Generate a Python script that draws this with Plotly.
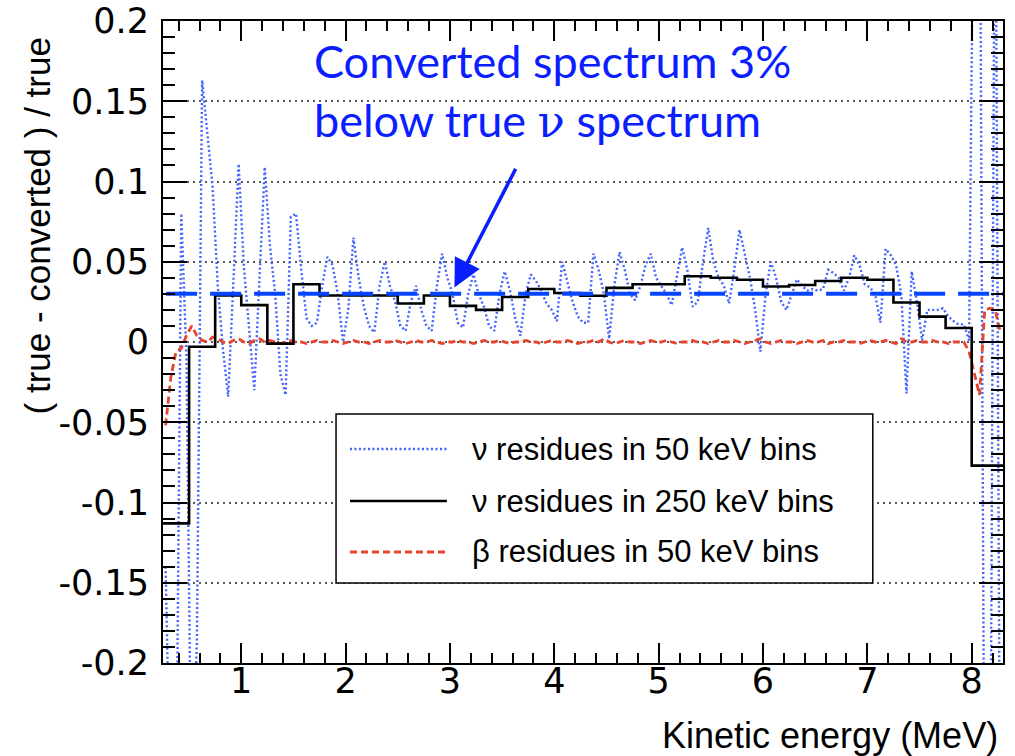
import numpy as np
import plotly.graph_objects as go

# ---------------------------------------------------------------------------
# Residues (true - converted) / true versus kinetic energy
# ---------------------------------------------------------------------------

# 50 keV binning: first bin centre and bin width (MeV)
BIN50_FIRST_CENTRE = 0.275
BIN50_WIDTH = 0.05

# neutrino residues, 50 keV bins
nu_residues_50 = [
    -0.140, -0.300, -0.300, 0.080, -0.010, -0.300, -0.185, 0.163, 0.130, 0.097,
    0.035, -0.005, -0.034, 0.042, 0.111, 0.047, 0.010, -0.030, 0.040, 0.109,
    0.060, 0.030, -0.020, -0.033, 0.078, 0.080, 0.045, 0.015, 0.010, 0.012,
    0.035, 0.053, 0.048, 0.030, 0.000, 0.020, 0.065, 0.040, 0.022, 0.010,
    0.006, 0.035, 0.050, 0.035, 0.025, 0.010, 0.007, 0.025, 0.035, 0.020,
    0.010, 0.007, 0.035, 0.055, 0.040, 0.030, 0.012, 0.009, 0.030, 0.042,
    0.030, 0.022, 0.010, 0.007, 0.030, 0.044, 0.032, 0.015, 0.004, 0.030,
    0.042, 0.038, 0.032, 0.024, 0.020, 0.013, 0.050, 0.038, 0.025, 0.016,
    0.012, 0.012, 0.055, 0.045, 0.030, 0.002, 0.035, 0.056, 0.045, 0.030,
    0.026, 0.035, 0.048, 0.055, 0.040, 0.035, 0.030, 0.023, 0.040, 0.059,
    0.045, 0.022, 0.025, 0.050, 0.071, 0.050, 0.040, 0.035, 0.024, 0.045,
    0.070, 0.055, 0.040, 0.020, -0.006, 0.030, 0.050, 0.040, 0.025, 0.020,
    0.030, 0.039, 0.035, 0.032, 0.033, 0.032, 0.033, 0.045, 0.043, 0.040,
    0.032, 0.040, 0.054, 0.048, 0.036, 0.034, 0.030, 0.012, 0.058, 0.054,
    0.048, 0.030, -0.032, 0.044, 0.025, 0.001, 0.020, 0.020, 0.020, 0.021,
    0.016, 0.013, 0.011, 0.011, 0.001, 0.350, 0.350, -0.350, -0.350, 0.350,
    -0.350,
]

# beta residues, 50 keV bins
beta_residues_50 = [
    -0.052, -0.022, -0.006, -0.004, 0.004, 0.010, 0.004, 0.001, 0.000, 0.003,
    0.002, 0.000, -0.001, 0.001, 0.002, 0.000, -0.001, 0.001, 0.002, 0.000,
    0.001, 0.000, -0.001, 0.000, 0.001, 0.000, 0.000, -0.001, 0.000, 0.001,
    0.000, 0.000, 0.001, 0.000, -0.001, 0.000, 0.001, 0.000, 0.000, -0.001,
    0.000, 0.001, 0.000, 0.000, 0.001, 0.000, -0.001, 0.000, 0.001, 0.000,
    0.000, 0.001, 0.000, -0.001, 0.000, 0.000, 0.001, 0.000, 0.000, -0.001,
    0.000, 0.001, 0.000, 0.000, 0.001, 0.000, -0.001, 0.000, 0.000, 0.001,
    0.000, 0.000, -0.001, 0.000, 0.001, 0.000, 0.000, 0.001, 0.000, -0.001,
    0.000, 0.000, 0.001, 0.000, 0.002, 0.000, -0.001, 0.000, 0.001, 0.000,
    0.000, -0.001, 0.000, 0.001, 0.000, 0.000, 0.001, 0.000, -0.001, 0.000,
    0.000, 0.001, 0.000, 0.000, -0.001, 0.000, 0.001, 0.000, 0.000, 0.001,
    0.000, -0.001, 0.000, 0.001, 0.002, 0.000, -0.001, 0.000, 0.001, 0.000,
    0.000, -0.001, 0.000, 0.001, 0.000, 0.000, 0.001, -0.001, 0.000, 0.000,
    0.001, 0.000, 0.000, -0.001, 0.000, 0.001, 0.000, 0.000, 0.001, 0.000,
    -0.001, 0.002, 0.000, 0.000, 0.001, 0.000, 0.000, 0.001, 0.000, 0.000,
    -0.001, 0.000, 0.000, 0.000, -0.006, -0.020, -0.033, 0.020, 0.021, 0.020,
    0.006,
]

# 250 keV binning: lower edge of first bin and bin width (MeV)
BIN250_FIRST_EDGE = 0.25
BIN250_WIDTH = 0.25

# neutrino residues, 250 keV bins
nu_residues_250 = [
    -0.113, -0.003, 0.029, 0.023, -0.001, 0.036, 0.029, 0.029, 0.029, 0.024,
    0.029, 0.0225, 0.020, 0.028, 0.033, 0.0305, 0.0288, 0.0337, 0.036, 0.036,
    0.041, 0.040, 0.0388, 0.0346, 0.0355, 0.038, 0.040, 0.0388, 0.0246, 0.0158,
    0.0087, -0.077,
]

# average offset of the converted spectrum
CONVERTED_OFFSET = 0.03
OFFSET_LINE_START = 0.28

X_RANGE = [0.25, 8.3]
Y_RANGE = [-0.2, 0.2]
x_tick_vals = [1, 2, 3, 4, 5, 6, 7, 8]
y_tick_vals = [0.2, 0.15, 0.1, 0.05, 0, -0.05, -0.1, -0.15, -0.2]
y_tick_text = ["0.2", "0.15", "0.1", "0.05", "0", "-0.05", "-0.1", "-0.15", "-0.2"]

legend_labels = [
    "\u03bd residues in 50 keV bins",
    "\u03bd residues in 250 keV bins",
    "\u03b2 residues in 50 keV bins",
]

BLUE_DOT = "#4262ff"
RED_DASH = "#e8432c"
NOTE_BLUE = "#0a1eff"
LINE_BLUE = "#0645ff"
FONT = "Liberation Sans, Arial, sans-serif"
TICK_FONT = "DejaVu Sans, sans-serif"

centres50 = BIN50_FIRST_CENTRE + BIN50_WIDTH * np.arange(len(nu_residues_50))
edges250 = BIN250_FIRST_EDGE + BIN250_WIDTH * np.arange(len(nu_residues_250) + 1)
edges250[-1] = X_RANGE[1]
steps250 = list(nu_residues_250) + [nu_residues_250[-1]]

fig = go.Figure()

fig.add_trace(go.Scatter(
    x=centres50, y=nu_residues_50, mode="lines",
    line=dict(color=BLUE_DOT, width=2.4, dash="2px,2.5px"),
    name=legend_labels[0], showlegend=False,
))
fig.add_trace(go.Scatter(
    x=centres50, y=beta_residues_50, mode="lines",
    line=dict(color=RED_DASH, width=2.8, dash="7px,4px"),
    name=legend_labels[2], showlegend=False,
))
fig.add_trace(go.Scatter(
    x=edges250, y=steps250, mode="lines", line_shape="hv",
    line=dict(color="black", width=2.6),
    name=legend_labels[1], showlegend=False,
))
fig.add_trace(go.Scatter(
    x=[OFFSET_LINE_START, X_RANGE[1]], y=[CONVERTED_OFFSET, CONVERTED_OFFSET],
    mode="lines", line=dict(color=LINE_BLUE, width=4, dash="31px,13px"),
    showlegend=False, hoverinfo="skip",
))

axis_common = dict(
    showline=True, linecolor="black", linewidth=2, mirror="allticks",
    ticks="inside", tickcolor="black", tickwidth=2,
    tickfont=dict(family=TICK_FONT, size=35, color="black"),
    zeroline=False, automargin=False,
)

fig.update_xaxes(
    range=X_RANGE, tickvals=x_tick_vals, ticklen=20, showgrid=False,
    ticklabelstandoff=-14,
    minor=dict(dtick=0.2, ticklen=10, ticks="inside", tickcolor="black", tickwidth=1.5, showgrid=False),
    **axis_common,
)
fig.update_yaxes(
    range=Y_RANGE, tickvals=y_tick_vals, ticktext=y_tick_text, ticklen=24,
    showgrid=True, gridcolor="#5a5a5a", gridwidth=1.5, griddash="2px,4px",
    ticklabelstandoff=5,
    minor=dict(dtick=0.01, ticklen=12, ticks="inside", tickcolor="black", tickwidth=1.5, showgrid=False),
    **axis_common,
)

# legend box, drawn in paper coordinates
legend_box = dict(x0=0.206, x1=0.845, y0=0.1246, y1=0.388)
legend_rows = [0.3333, 0.2523, 0.1729]
legend_styles = [
    dict(color=BLUE_DOT, width=2.4, dash="2px,2.5px"),
    dict(color="black", width=2.6),
    dict(color=RED_DASH, width=2.8, dash="7px,4px"),
]
shapes = [dict(type="rect", xref="paper", yref="paper", **legend_box,
               line=dict(color="black", width=1.5), fillcolor="white", layer="above")]
for yrow, style in zip(legend_rows, legend_styles):
    shapes.append(dict(type="line", xref="paper", yref="paper", x0=0.2226, x1=0.338,
                       y0=yrow, y1=yrow, line=style, layer="above"))

annotations = []
for yrow, label in zip(legend_rows, legend_labels):
    annotations.append(dict(xref="paper", yref="paper", x=0.3655, y=yrow,
                            xanchor="left", yanchor="middle", text=label, showarrow=False,
                            font=dict(family=FONT, size=31, color="black")))

nu_serif = "<span style=\"font-family:'DejaVu Serif', serif\">\u03bd</span>"
annotations.append(dict(
    xref="paper", yref="paper", x=0.1774, y=0.983, xanchor="left", yanchor="top",
    align="left", showarrow=False,
    text="Converted spectrum 3%<br>below true " + nu_serif + " spectrum",
    font=dict(family="Lato, sans-serif", size=45, color=NOTE_BLUE),
))
annotations.append(dict(
    x=3.043, y=0.034, ax=3.637, ay=0.1088, xref="x", yref="y", axref="x", ayref="y",
    text="", showarrow=True, arrowhead=2, arrowsize=1.6, arrowwidth=3.5,
    arrowcolor=NOTE_BLUE,
))
annotations.append(dict(
    xref="paper", yref="paper", x=0.9964, y=-0.1122, xanchor="right", yanchor="middle",
    text="Kinetic energy (MeV)", showarrow=False,
    font=dict(family=FONT, size=36, color="black"),
))
annotations.append(dict(
    xref="paper", yref="paper", x=-0.1500, y=0.680, xanchor="center", yanchor="middle",
    text="( true - converted ) / true", textangle=-90, showarrow=False,
    font=dict(family=FONT, size=35, color="black"),
))

fig.update_layout(
    width=1015, height=756,
    margin=dict(l=163, r=12, t=21, b=93),
    paper_bgcolor="white", plot_bgcolor="white",
    showlegend=False,
    shapes=shapes, annotations=annotations,
)

fig.write_html("out.html")
